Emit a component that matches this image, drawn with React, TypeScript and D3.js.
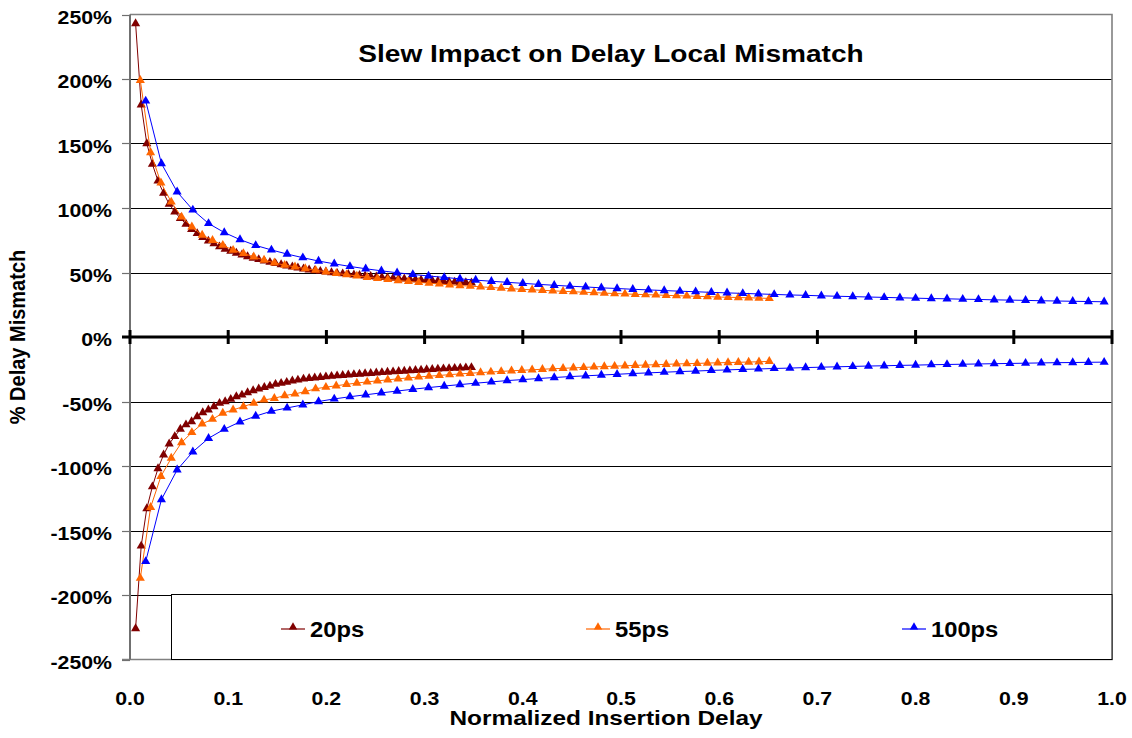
import React, { useEffect, useRef } from "react";
import * as d3 from "d3";

// x positions (normalized insertion delay) and % mismatch
const xs20 = [
  0.0057, 0.0114, 0.0171, 0.0228, 0.0285, 0.0342, 0.0399, 0.0456, 0.0513, 0.057,
  0.0627, 0.0684, 0.0741, 0.0798, 0.0855, 0.0912, 0.0969, 0.1026, 0.1083, 0.114,
  0.1197, 0.1254, 0.1311, 0.1368, 0.1425, 0.1482, 0.1539, 0.1596, 0.1653, 0.171,
  0.1767, 0.1824, 0.1881, 0.1938, 0.1995, 0.2052, 0.2109, 0.2166, 0.2223, 0.228,
  0.2337, 0.2394, 0.2451, 0.2508, 0.2565, 0.2622, 0.2679, 0.2736, 0.2793, 0.285,
  0.2907, 0.2964, 0.3021, 0.3078, 0.3135, 0.3192, 0.3249, 0.3306, 0.3363, 0.342,
  0.3477,
];
const pos20 = [
  243, 180, 150, 134, 121, 111.5, 103, 97, 92, 87.5,
  83.4, 80.3, 77.2, 74.5, 72.3, 70, 68.2, 66.6, 65.1, 63.7,
  62.4, 61.2, 60.1, 59, 58, 57, 56.1, 55.2, 54.4, 53.6,
  52.9, 52.1, 51.5, 51, 50.5, 50, 49.5, 49.1, 48.6, 48.2,
  47.8, 47.4, 47, 46.7, 46.3, 46, 45.7, 45.4, 45.1, 44.8,
  44.5, 44.2, 43.9, 43.7, 43.4, 43.2, 42.9, 42.7, 42.4, 42.2,
  42,
];
const neg20 = [
  -226, -162, -133, -116, -102, -91.3, -82.8, -77.1, -71.4, -68,
  -65.5, -61.7, -58.6, -56.5, -53.9, -51.3, -50, -48.2, -46.2, -44.9,
  -43.1, -41.5, -40.2, -39, -37.9, -36.6, -35.8, -35, -34, -33.3,
  -32.5, -32, -31.6, -31.2, -30.8, -30.4, -30, -29.7, -29.3, -29,
  -28.7, -28.4, -28.1, -27.8, -27.5, -27.2, -26.9, -26.6, -26.4, -26.1,
  -25.8, -25.6, -25.3, -25.1, -24.8, -24.6, -24.4, -24.2, -24, -23.8,
  -23.6,
];

const xs55 = [
  0.0105, 0.021, 0.0315, 0.042, 0.0525, 0.063, 0.0735, 0.084, 0.0945, 0.105,
  0.1155, 0.126, 0.1365, 0.147, 0.1575, 0.168, 0.1785, 0.189, 0.1995, 0.21,
  0.2205, 0.231, 0.2415, 0.252, 0.2625, 0.273, 0.2835, 0.294, 0.3045, 0.315,
  0.3255, 0.336, 0.3465, 0.357, 0.3675, 0.378, 0.3885, 0.399, 0.4095, 0.42,
  0.4305, 0.441, 0.4515, 0.462, 0.4725, 0.483, 0.4935, 0.504, 0.5145, 0.525,
  0.5355, 0.546, 0.5565, 0.567, 0.5775, 0.588, 0.5985, 0.609, 0.6195, 0.63,
  0.6405, 0.651,
];
const pos55 = [
  199, 143, 119.5, 104.7, 93.1, 85.4, 79, 75, 71.2, 67.3,
  64.8, 62.2, 59.6, 57.5, 55.7, 54.4, 53, 51.8, 50.5, 49.3,
  48.3, 47.3, 46.3, 45.4, 44.6, 43.8, 43.1, 42.4, 41.7, 41.1,
  40.5, 39.9, 39.4, 38.9, 38.4, 37.9, 37.4, 37, 36.6, 36.2,
  35.8, 35.4, 35.1, 34.7, 34.4, 34, 33.7, 33.4, 33.1, 32.8,
  32.6, 32.3, 32, 31.8, 31.5, 31.3, 31, 30.8, 30.6, 30.4,
  30.2, 29.9,
];
const neg55 = [
  -187, -132, -108, -93.9, -81.8, -74, -67.3, -63.7, -59, -56.5,
  -53.9, -51.3, -48.8, -47.5, -45.4, -44.1, -42.3, -40.1, -38.9, -37.8,
  -36.7, -35.7, -34.8, -34, -33.2, -32.4, -31.7, -31, -30.4, -29.8,
  -29.2, -28.6, -28.1, -27.6, -27.1, -26.7, -26.2, -25.8, -25.4, -25,
  -24.6, -24.3, -23.9, -23.6, -23.2, -22.9, -22.6, -22.3, -22, -21.7,
  -21.5, -21.2, -20.9, -20.7, -20.5, -20.2, -20, -19.8, -19.6, -19.4,
  -19.2, -18.9,
];

const xs100 = [
  0.016, 0.032, 0.048, 0.064, 0.08, 0.096, 0.112, 0.128, 0.144, 0.16,
  0.176, 0.192, 0.208, 0.224, 0.24, 0.256, 0.272, 0.288, 0.304, 0.32,
  0.336, 0.352, 0.368, 0.384, 0.4, 0.416, 0.432, 0.448, 0.464, 0.48,
  0.496, 0.512, 0.528, 0.544, 0.56, 0.576, 0.592, 0.608, 0.624, 0.64,
  0.656, 0.672, 0.688, 0.704, 0.72, 0.736, 0.752, 0.768, 0.784, 0.8,
  0.816, 0.832, 0.848, 0.864, 0.88, 0.896, 0.912, 0.928, 0.944, 0.96,
  0.976, 0.992,
];
const pos100 = [
  183, 134.5, 112.5, 98.5, 88, 81, 75.5, 71, 67.5, 64.3,
  61.5, 58.9, 56.7, 54.7, 52.9, 51.3, 49.8, 48.5, 47.3, 46.2,
  45.1, 44.1, 43.2, 42.4, 41.6, 40.8, 40.1, 39.4, 38.8, 38.1,
  37.6, 37, 36.5, 36, 35.5, 35.1, 34.6, 34.2, 33.8, 33.4,
  33, 32.6, 32.3, 31.9, 31.6, 31.3, 31, 30.7, 30.4, 30.1,
  29.8, 29.6, 29.3, 29.1, 28.8, 28.6, 28.4, 28.1, 27.9, 27.7,
  27.5, 27.3,
];
const neg100 = [
  -174, -126, -103, -89, -78.5, -71.5, -65.8, -61.3, -57.5, -55,
  -52.6, -50, -48, -46.3, -44.8, -43.3, -41.9, -40.5, -39.2, -38,
  -36.9, -35.8, -34.8, -33.8, -33, -32.2, -31.4, -30.7, -30.1, -29.5,
  -28.9, -28.3, -27.8, -27.3, -26.8, -26.4, -25.9, -25.5, -25.1, -24.8,
  -24.4, -24.1, -23.7, -23.4, -23.1, -22.8, -22.5, -22.3, -22, -21.8,
  -21.5, -21.3, -21.1, -20.9, -20.7, -20.5, -20.3, -20.1, -19.9, -19.8,
  -19.6, -19.5,
];

const seriesNames = ["20ps", "55ps", "100ps"];
const seriesColors = ["#800000", "#FF6600", "#0000FF"];
const xTicks = [0, 0.1, 0.2, 0.3, 0.4, 0.5, 0.6, 0.7, 0.8, 0.9, 1.0];
const yTicks = [250, 200, 150, 100, 50, 0, -50, -100, -150, -200, -250];

const FONT = "'Liberation Sans', Arial, sans-serif";

const SlewChart: React.FC = () => {
  const svgRef = useRef<SVGSVGElement | null>(null);

  useEffect(() => {
    const svg = d3.select(svgRef.current);
    svg.selectAll("*").remove();

    const width = 1132;
    const height = 738;
    const plot = { left: 130, right: 1112, top: 14.5, bottom: 659.5 };

    const x = d3.scaleLinear().domain([0, 1]).range([plot.left, plot.right]);
    const y = d3.scaleLinear().domain([-250, 250]).range([plot.bottom, plot.top]);

    svg.append("rect").attr("width", width).attr("height", height).attr("fill", "#fff");

    // gridlines
    svg
      .append("g")
      .selectAll("line")
      .data(yTicks.filter((t) => t !== 0 && Math.abs(t) !== 250))
      .join("line")
      .attr("x1", plot.left)
      .attr("x2", plot.right)
      .attr("y1", (d) => Math.round(y(d)) + 0.5)
      .attr("y2", (d) => Math.round(y(d)) + 0.5)
      .attr("stroke", "#000")
      .attr("stroke-width", 1);

    // plot frame (top, right, bottom)
    svg
      .append("path")
      .attr(
        "d",
        `M${plot.left},${plot.top}H${plot.right}V${plot.bottom}H${plot.left - 8}`
      )
      .attr("fill", "none")
      .attr("stroke", "#808080")
      .attr("stroke-width", 1.6);

    // y axis + ticks
    svg
      .append("line")
      .attr("x1", plot.left)
      .attr("x2", plot.left)
      .attr("y1", plot.top)
      .attr("y2", plot.bottom)
      .attr("stroke", "#707070")
      .attr("stroke-width", 2);
    svg
      .append("g")
      .selectAll("line")
      .data(yTicks)
      .join("line")
      .attr("x1", plot.left - 8)
      .attr("x2", plot.left)
      .attr("y1", (d) => Math.round(y(d)) + 0.5)
      .attr("y2", (d) => Math.round(y(d)) + 0.5)
      .attr("stroke", "#707070")
      .attr("stroke-width", 1.2);

    // series
    const all = [
      { xs: xs20, pos: pos20, neg: neg20 },
      { xs: xs55, pos: pos55, neg: neg55 },
      { xs: xs100, pos: pos100, neg: neg100 },
    ];
    const line = d3
      .line<[number, number]>()
      .x((d) => x(d[0]))
      .y((d) => y(d[1]));
    const tri = d3.symbol().type(d3.symbolTriangle).size(36)();

    all.forEach((s, i) => {
      const color = seriesColors[i];
      [s.pos, s.neg].forEach((vals) => {
        const pts: [number, number][] = s.xs.map((v, j) => [v, vals[j]]);
        const g = svg.append("g");
        g.append("path")
          .attr("d", line(pts))
          .attr("fill", "none")
          .attr("stroke", color)
          .attr("stroke-width", 1);
        g.selectAll("path.m")
          .data(pts)
          .join("path")
          .attr("class", "m")
          .attr("d", tri)
          .attr("transform", (d) => `translate(${x(d[0])},${y(d[1])})`)
          .attr("fill", color);
      });
    });

    // zero axis with cross ticks
    svg
      .append("line")
      .attr("x1", plot.left - 8)
      .attr("x2", plot.right)
      .attr("y1", y(0))
      .attr("y2", y(0))
      .attr("stroke", "#000")
      .attr("stroke-width", 3);
    svg
      .append("g")
      .selectAll("line")
      .data(xTicks)
      .join("line")
      .attr("x1", (d) => x(d))
      .attr("x2", (d) => x(d))
      .attr("y1", y(0) - 7)
      .attr("y2", y(0) + 7)
      .attr("stroke", "#000")
      .attr("stroke-width", 3);

    const txt = (
      px: number,
      py: number,
      str: string,
      size: number,
      anchor: string,
      sx = 1.12,
      rot = 0
    ) =>
      svg
        .append("text")
        .attr(
          "transform",
          `translate(${px},${py}) rotate(${rot}) scale(${rot ? 1 : sx},${rot ? sx : 1})`
        )
        .attr("text-anchor", anchor)
        .attr("font-family", FONT)
        .attr("font-weight", "bold")
        .attr("font-size", size)
        .attr("fill", "#000")
        .text(str);

    // tick labels
    yTicks.forEach((t) => txt(112, y(t) + 9, `${t}%`, 19, "end"));
    xTicks.forEach((t) => txt(x(t), 705, t.toFixed(1), 19, "middle"));

    // titles
    txt(611, 62, "Slew Impact on Delay Local Mismatch", 24, "middle", 1.17);
    txt(606, 725, "Normalized Insertion Delay", 20, "middle", 1.22);
    txt(25, 337, "% Delay Mismatch", 20, "middle", 1.1, -90);

    // legend
    const lg = svg.append("g");
    lg.append("rect")
      .attr("x", 171.5)
      .attr("y", 594.5)
      .attr("width", plot.right - 171.5)
      .attr("height", plot.bottom - 594.5)
      .attr("fill", "#fff")
      .attr("stroke", "#000")
      .attr("stroke-width", 1);
    const legendX = [293, 598, 914];
    seriesNames.forEach((name, i) => {
      const cx = legendX[i];
      lg.append("line")
        .attr("x1", cx - 12)
        .attr("x2", cx + 12)
        .attr("y1", 629)
        .attr("y2", 629)
        .attr("stroke", seriesColors[i])
        .attr("stroke-width", 1.2);
      lg.append("path")
        .attr("d", d3.symbol().type(d3.symbolTriangle).size(30)())
        .attr("transform", `translate(${cx},627)`)
        .attr("fill", seriesColors[i]);
      txt(cx + 17, 637, name, 22, "start", 1.08);
    });

    svg.attr("width", width).attr("height", height);
  }, []);

  return (
    <svg
      ref={svgRef}
      style={{ position: "absolute", left: 0, top: 0, display: "block" }}
    ></svg>
  );
};

export default function App() {
  return <SlewChart />;
}
